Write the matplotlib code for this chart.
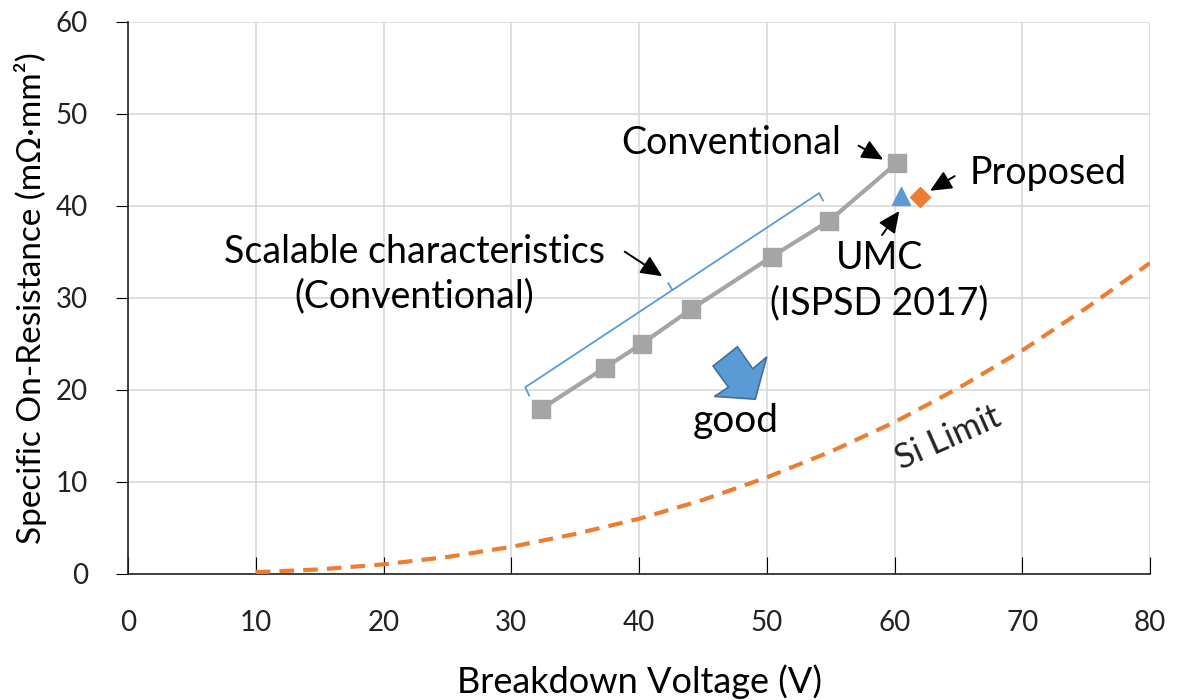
import matplotlib
matplotlib.use('Agg')
import matplotlib.pyplot as plt
from matplotlib.patches import Polygon

plt.rcParams['font.family'] = ['Lato', 'DejaVu Sans']

# Conventional devices (scalable series)
conv_bv = [32.3, 37.3, 40.2, 44.1, 50.4, 54.9, 60.2]
conv_ron = [17.9, 22.4, 25.0, 28.8, 34.5, 38.4, 44.7]

# Reference and proposed devices
umc_bv, umc_ron = [60.5], [41.1]
prop_bv, prop_ron = [62.0], [41.0]

# Si limit
si_bv = [10, 15, 20, 25, 30, 35, 40, 45, 50, 55, 60, 65, 70, 75, 80]
si_ron = [0.2, 0.5, 1.05, 1.85, 2.95, 4.35, 6.0, 8.05, 10.5, 13.3, 16.5, 20.2, 24.3, 28.9, 33.8]

# "good" block arrow outline
good_arrow = [(45.8, 22.6), (47.7, 24.7), (48.9, 22.3), (50.0, 23.6),
              (49.1, 19.0), (45.9, 19.3), (47.0, 20.3)]

fig = plt.figure(figsize=(11.79, 7.0), dpi=100)
ax = fig.add_axes([0.1086, 0.18, 0.8668, 0.7886])

ax.plot(si_bv, si_ron, color='#ed7d31', lw=3, dashes=(3.5, 2.2), zorder=3)
ax.plot(conv_bv, conv_ron, color='#a5a5a5', lw=3, marker='s', ms=13, zorder=4)
ax.plot(umc_bv, umc_ron, color='#5b9bd5', marker='^', ms=13, ls='none', zorder=4)
ax.plot(prop_bv, prop_ron, color='#ed7d31', marker='D', ms=10, ls='none', zorder=4)

# bracket for the scalable range
ax.plot([31.4, 31.1, 54.1, 54.4], [19.4, 20.3, 41.4, 40.6], color='#5b9bd5', lw=1.3, zorder=3)
ax.plot([42.6, 42.3], [30.9, 31.6], color='#5b9bd5', lw=1.3, zorder=3)

ax.add_patch(Polygon(good_arrow, closed=True, facecolor='#5b9bd5',
                     edgecolor='#41719c', lw=1.2, zorder=5))

arrow = dict(arrowstyle='-|>,head_length=1.3,head_width=0.6', color='black', lw=1.4)
ax.annotate('', xy=(42.0, 32.2), xytext=(38.7, 35.2), arrowprops=arrow)
ax.annotate('', xy=(59.3, 44.9), xytext=(57.0, 46.7), arrowprops=arrow)
ax.annotate('', xy=(62.6, 41.5), xytext=(64.9, 43.4), arrowprops=arrow)
ax.annotate('', xy=(60.5, 39.7), xytext=(58.9, 36.6), arrowprops=arrow)

ax.text(47.2, 46.8, 'Conventional', fontsize=27, ha='center', va='center')
ax.text(72.0, 43.6, 'Proposed', fontsize=27, ha='center', va='center')
ax.text(22.4, 32.6, 'Scalable characteristics\n(Conventional)', fontsize=27,
        ha='center', va='center', linespacing=1.3)
ax.text(58.8, 31.9, 'UMC\n(ISPSD 2017)', fontsize=27, ha='center', va='center',
        linespacing=1.3)
ax.text(47.6, 16.6, 'good', fontsize=28, ha='center', va='center')
ax.text(64.2, 14.8, 'Si Limit', fontsize=25, ha='center', va='center',
        rotation=24, color='#222222')

ax.set_xlim(0, 80)
ax.set_ylim(0, 60)
ax.set_xticks(range(0, 81, 10))
ax.set_yticks(range(0, 61, 10))
ax.grid(True, color='#d9d9d9', lw=1.2)
ax.set_axisbelow(True)
for s in ['top', 'right']:
    ax.spines[s].set_visible(False)
for s in ['left', 'bottom']:
    ax.spines[s].set_color('#222222')
    ax.spines[s].set_linewidth(1.2)
ax.tick_params(axis='x', direction='in', length=12, pad=26, labelsize=20, labelcolor='#222222')
ax.tick_params(axis='y', direction='out', length=9, pad=20, labelsize=20, labelcolor='#222222')
ax.set_xlabel('Breakdown Voltage (V)', fontsize=26, labelpad=20)
ax.set_ylabel('Specific On-Resistance (mΩ·mm²)', fontsize=24, labelpad=6)

plt.savefig('out.png', dpi=100)
plt.close()
